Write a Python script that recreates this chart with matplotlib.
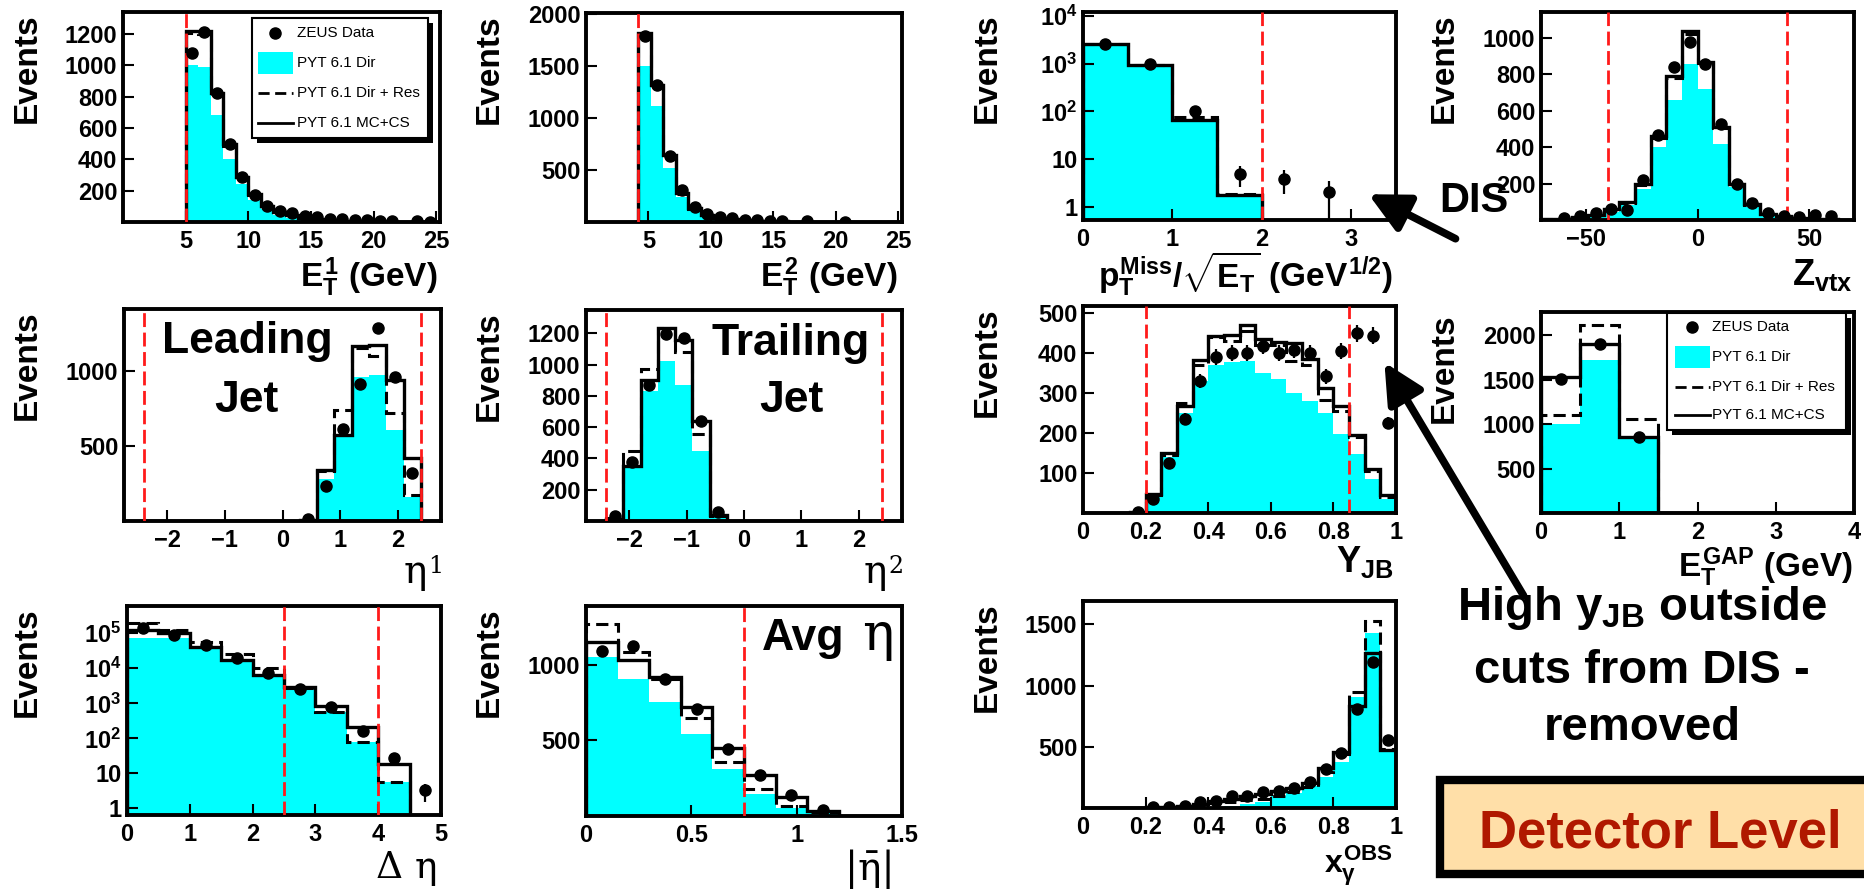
import numpy as np
import matplotlib.pyplot as plt
from matplotlib.patches import Rectangle, FancyArrowPatch
from matplotlib.lines import Line2D
from matplotlib.ticker import NullFormatter

plt.rcParams['font.family'] = 'Liberation Sans'
plt.rcParams['mathtext.fontset'] = 'custom'
plt.rcParams['mathtext.rm'] = 'Liberation Sans:bold'
plt.rcParams['mathtext.it'] = 'Liberation Sans:bold'
plt.rcParams['mathtext.bf'] = 'Liberation Sans:bold'
plt.rcParams['mathtext.sf'] = 'Liberation Sans:bold'

W, H = 1864, 891
CYAN = '#00ffff'
RED = '#ff1a1a'
SERIF = 'DejaVu Serif'
nan = np.nan

# ---- leading jet E_T ----
et1_edges = np.linspace(5, 25, 21)
et1_dir = [1000, 990, 685, 405, 245, 140, 80, 45, 25, 13, 7, 4, 2, 1, 1, 0, 0, 0, 0, 0]
et1_res = [1205, 1200, 815, 485, 285, 172, 98, 62, 40, 26, 17, 11, 8, 6, 4, 3, 3, 2, 1, 1]
et1_mc = [1220, 1220, 825, 495, 290, 178, 102, 66, 42, 28, 18, 12, 8, 6, 5, 4, 3, 2, 2, 1]
et1_data = [1080, 1210, 825, 495, 290, 175, 100, 72, 55, 40, 30, 22, 16, 12, 10, 8, 6, nan, 4, 3]

# ---- trailing jet E_T ----
et2_edges = np.linspace(4.2, 25.2, 22)
et2_dir = [1500, 1115, 520, 245, 115, 50, 20, 10, 5, 2, 1, 0, 0, 0, 0, 0, 0, 0, 0, 0, 0]
et2_res = [1800, 1300, 640, 272, 128, 64, 38, 25, 16, 10, 7, 5, 3, 2, 2, 1, 1, 1, 0, 0, 0]
et2_mc = [1820, 1315, 645, 275, 130, 65, 40, 26, 17, 11, 7, 5, 4, 3, 2, 1, 1, 1, 0, 0, 0]
et2_data = [1790, 1320, 630, 306, 148, 80, 50, 35, 22, 15, 10, 8, nan, 5, nan, nan, 3, nan, nan, nan, nan]

# ---- missing pT / sqrt(ET) ----
pt_edges = np.linspace(0, 3.5, 8)
pt_dir = [2500, 900, 60, 1.7, 0, 0, 0]
pt_res = [2550, 920, 75, 1.9, 0, 0, 0]
pt_mc = [2600, 930, 67, 1.75, 0, 0, 0]
pt_data = [2600, 1000, 100, 4.9, 3.9, 2.0, nan]
pt_err = [50, 32, 10, 2.3, 2.0, 1.45, 0]

# ---- Z vertex ----
zvtx_edges = np.linspace(-70, 70, 21)
zvtx_dir = [2, 5, 10, 20, 45, 80, 170, 400, 655, 855, 718, 418, 180, 70, 25, 12, 6, 3, 2, 1]
zvtx_res = [3, 7, 14, 28, 58, 95, 190, 450, 780, 1020, 860, 505, 195, 80, 33, 18, 9, 6, 3, 2]
zvtx_mc = [3, 8, 15, 30, 60, 100, 195, 460, 790, 1035, 865, 510, 200, 85, 35, 20, 10, 7, 4, 2]
zvtx_data = [nan, 9, 22, 36, 58, 55, 218, 464, 840, 976, 855, 527, 200, 91, 36, 22, 18, 27, 22, nan]

# ---- eta of leading / trailing jet ----
eta_edges = np.linspace(-2.4, 2.4, 17)
eta1_dir = [0, 0, 0, 0, 0, 0, 0, 0, 0, 2, 282, 564, 960, 971, 604, 160]
eta1_res = [0, 0, 0, 0, 0, 0, 0, 0, 0, 4, 330, 740, 1150, 1100, 716, 171]
eta1_mc = [0, 0, 0, 0, 0, 0, 0, 0, 0, 5, 338, 570, 1165, 1170, 940, 416]
eta1_data = [nan, nan, nan, nan, nan, nan, nan, nan, nan, 11, 231, 609, 911, 1282, 960, 316]

eta2_dir = [0, 361, 834, 1026, 867, 447, 28, 0, 0, 0, 0, 0, 0, 0, 0, 0]
eta2_res = [18, 447, 975, 1232, 1082, 555, 35, 0, 0, 0, 0, 0, 0, 0, 0, 0]
eta2_mc = [15, 350, 900, 1232, 1160, 637, 40, 0, 0, 0, 0, 0, 0, 0, 0, 0]
eta2_data = [32, 378, 867, 1194, 1168, 637, 56, nan, nan, nan, nan, nan, nan, nan, nan, nan]

# ---- y_JB ----
yjb_edges = np.linspace(0, 1, 21)
yjb_dir = [0, 0, 0, 1, 40, 140, 251, 330, 371, 378, 380, 351, 336, 301, 280, 251, 197, 147, 85, 35]
yjb_res = [0, 0, 0, 2, 45, 145, 275, 370, 440, 430, 455, 420, 420, 380, 370, 284, 255, 190, 105, 40]
yjb_mc = [0, 0, 0, 2, 48, 150, 269, 384, 442, 446, 471, 435, 429, 425, 385, 313, 268, 194, 110, 44]
yjb_data = [nan, nan, nan, 2, 35, 126, 236, 331, 390, 400, 400, 417, 400, 409, 400, 342, 405, 450, 444, 226]
yjb_err = [0, 0, 0, 2, 6, 11, 15, 18, 20, 20, 20, 20, 20, 20, 20, 19, 20, 21, 21, 15]

# ---- E_T in gap ----
gap_edges = np.linspace(0, 4, 9)
gap_dir = [1005, 1717, 836, 0, 0, 0, 0, 0]
gap_res = [1100, 2110, 1060, 0, 0, 0, 0, 0]
gap_mc = [1530, 1905, 855, 0, 0, 0, 0, 0]
gap_data = [1511, 1905, 855, nan, nan, nan, nan, nan]

# ---- delta eta ----
deta_edges = np.linspace(0, 5, 11)
deta_dir = [7.2e4, 7.2e4, 4.1e4, 1.7e4, 6.4e3, 2.9e3, 580, 80, 5.8, 0]
deta_res = [1.9e5, 1.2e5, 5.8e4, 2.6e4, 1.0e4, 2.7e3, 580, 80, 5.8, 0]
deta_mc = [1.2e5, 1.0e5, 4.1e4, 1.7e4, 6.4e3, 2.9e3, 840, 206, 19, 0]
deta_data = [1.4e5, 9e4, 4.6e4, 2e4, 7.5e3, 2.5e3, 770, 160, 28, 3.3]
deta_err = [0, 0, 0, 0, 0, 0, 0, 0, 0, 1.8]

# ---- average |eta| ----
avg_edges = np.linspace(0, 1.5, 11)
avg_dir = [1055, 906, 752, 544, 314, 143, 55, 18, 0, 0]
avg_res = [1268, 1086, 906, 647, 357, 182, 68, 24, 0, 0]
avg_mc = [1153, 1031, 917, 719, 452, 270, 127, 35, 0, 0]
avg_data = [1092, 1125, 910, 708, 441, 270, 138, 39, nan, nan]

# ---- x_gamma ----
xg_edges = np.linspace(0, 1, 21)
xg_dir = [0, 0, 0, 0, 0, 1, 3, 6, 10, 20, 30, 45, 95, 120, 176, 257, 378, 905, 1432, 460]
xg_res = [0, 0, 0, 0, 4, 8, 15, 28, 40, 50, 62, 76, 100, 130, 170, 290, 440, 946, 1527, 480]
xg_mc = [0, 0, 0, 0, 5, 10, 20, 35, 55, 75, 95, 115, 140, 160, 208, 324, 459, 830, 1262, 473]
xg_data = [nan, nan, nan, nan, 5, 8, 15, 45, 60, 95, 100, 127, 140, 162, 216, 316, 451, 811, 1189, 554]

fig = plt.figure(figsize=(W / 100, H / 100), dpi=100)


def fxy(x, y):
    return x / W, 1 - y / H


def panel(box, xlim, ylim, xticks, yticks, xlabels=None, ylabels=None, log=False):
    l, t, r, b = box
    ax = fig.add_axes([l / W, 1 - b / H, (r - l) / W, (b - t) / H])
    if log:
        ax.set_yscale('log')
    ax.set_xlim(xlim)
    ax.set_ylim(ylim)
    ax.set_xticks(xticks)
    if xlabels:
        ax.set_xticklabels(xlabels)
    ax.set_yticks(yticks)
    if ylabels:
        ax.set_yticklabels(ylabels)
    ax.yaxis.set_minor_formatter(NullFormatter())
    ax.tick_params(direction='in', length=8, width=1.5, labelsize=17, pad=4)
    ax.tick_params(axis='x', pad=6)
    ax.tick_params(which='minor', direction='in', length=4, width=1)
    for lbl in ax.get_xticklabels() + ax.get_yticklabels():
        lbl.set_fontweight('bold')
    for s in ax.spines.values():
        s.set_linewidth(2.8)
    # "Events" sits near the top of each frame
    ex = {123: 27, 124: 27, 127: 27, 586: 489, 1083: 987, 1541: 1444}[l]
    fig.text(*fxy(ex, t + 1), 'Events', rotation=90, ha='center', va='top',
             fontsize=24, weight='bold')
    return ax


def hists(ax, edges, dirv, resv, mcv, floor=0.0):
    ax.stairs(np.maximum(dirv, floor), edges, fill=True, color=CYAN, baseline=floor, zorder=1)
    ax.stairs(np.maximum(mcv, floor), edges, color='black', lw=2.4, baseline=floor, zorder=2)
    ax.stairs(np.maximum(resv, floor), edges, color='black', lw=2.2, ls=(0, (4, 2)),
              baseline=floor, zorder=3)


def points(ax, edges, y, yerr=None):
    x = 0.5 * (edges[1:] + edges[:-1])
    ax.errorbar(x, y, yerr=yerr, fmt='o', color='black', ms=8, elinewidth=1.6,
                capsize=0, zorder=5)


def cuts(ax, xs):
    for x in xs:
        ax.axvline(x, color=RED, lw=2, ls=(0, (5, 2)), zorder=4)


def xlabel(x, y, s, size=24):
    fig.text(*fxy(x, y), s, ha='right', va='baseline', fontsize=size, weight='bold')


def eta_label(x, y, sup):
    # thin serif eta with a small superscript, as in the original
    fig.text(*fxy(x - 10, y), '\u03b7', ha='right', va='baseline', fontsize=28, family=SERIF)
    fig.text(*fxy(x - 9, y - 10), sup, ha='left', va='baseline', fontsize=17, family=SERIF)


def legend(box, mx, rows, x0, x1, tx):
    l, t, r, b = box
    fig.add_artist(Rectangle(fxy(l + 5, b + 5), (r - l) / W, (b - t) / H,
                             transform=fig.transFigure, facecolor='black', zorder=10))
    fig.add_artist(Rectangle(fxy(l, b), (r - l) / W, (b - t) / H, transform=fig.transFigure,
                             facecolor='white', edgecolor='black', lw=1.5, zorder=11))
    y0, y1, y2, y3 = rows
    fig.add_artist(Line2D([mx / W], [1 - y0 / H], marker='o', ms=8, color='black',
                          transform=fig.transFigure, zorder=12))
    fig.add_artist(Rectangle(fxy(x0, y1 + 11), (x1 - x0) / W, 22 / H, transform=fig.transFigure,
                             facecolor=CYAN, zorder=12))
    fig.add_artist(Line2D([x0 / W, x1 / W], [1 - y2 / H] * 2, color='black', lw=2,
                          ls=(0, (4, 2)), transform=fig.transFigure, zorder=12))
    fig.add_artist(Line2D([x0 / W, x1 / W], [1 - y3 / H] * 2, color='black', lw=2,
                          transform=fig.transFigure, zorder=12))
    for y, s in zip(rows, ['ZEUS Data', 'PYT 6.1 Dir', 'PYT 6.1 Dir + Res', 'PYT 6.1 MC+CS']):
        fig.text(*fxy(tx, y), s, fontsize=11, va='center', zorder=12)


frac = ['0', '0.2', '0.4', '0.6', '0.8', '1']

# row 1
ax = panel((123, 12, 440, 222), (0, 25.3), (0, 1340), [5, 10, 15, 20, 25], [200, 400, 600, 800, 1000, 1200])
hists(ax, et1_edges, et1_dir, et1_res, et1_mc)
points(ax, et1_edges, et1_data)
cuts(ax, [5])
xlabel(437, 287, r'$E_T^1\ (GeV)$')
legend((252, 18, 428, 138), 275, (33, 63, 93, 123), 258, 293, 297)

ax = panel((586, 13, 902, 222), (0, 25.3), (0, 2010), [5, 10, 15, 20, 25], [500, 1000, 1500, 2000])
hists(ax, et2_edges, et2_dir, et2_res, et2_mc)
points(ax, et2_edges, et2_data)
cuts(ax, [4.2])
xlabel(897, 287, r'$E_T^2\ (GeV)$')

ax = panel((1083, 12, 1396, 220), (0, 3.5), (0.53, 1.2e4), [0, 1, 2, 3], [1, 10, 100, 1000, 10000],
           ylabels=['1', '10', r'10$^2$', r'10$^3$', r'10$^4$'], log=True)
hists(ax, pt_edges, pt_dir, pt_res, pt_mc, floor=1e-2)
points(ax, pt_edges, pt_data, pt_err)
cuts(ax, [2])
xlabel(1393, 287, r'$p_T^{Miss}/\sqrt{E_T}\ (GeV^{1/2})$')

ax = panel((1541, 12, 1854, 220), (-70, 70), (0, 1140), [-50, 0, 50], [200, 400, 600, 800, 1000])
hists(ax, zvtx_edges, zvtx_dir, zvtx_res, zvtx_mc)
points(ax, zvtx_edges, zvtx_data)
cuts(ax, [-40, 40])
xlabel(1852, 285, r'$Z_{vtx}$', size=26)

# row 2
ax = panel((124, 309, 441, 521), (-2.75, 2.75), (0, 1410), [-2, -1, 0, 1, 2], [500, 1000])
hists(ax, eta_edges, eta1_dir, eta1_res, eta1_mc)
points(ax, eta_edges, eta1_data)
cuts(ax, [-2.4, 2.4])
eta_label(437, 583, '1')
fig.text(*fxy(247, 353), 'Leading', ha='center', va='baseline', fontsize=32, weight='bold')
fig.text(*fxy(246, 412), 'Jet', ha='center', va='baseline', fontsize=32, weight='bold')

ax = panel((586, 310, 902, 521), (-2.75, 2.75), (0, 1350), [-2, -1, 0, 1, 2], [200, 400, 600, 800, 1000, 1200])
hists(ax, eta_edges, eta2_dir, eta2_res, eta2_mc)
points(ax, eta_edges, eta2_data)
cuts(ax, [-2.4, 2.4])
eta_label(897, 583, '2')
fig.text(*fxy(791, 355), 'Trailing', ha='center', va='baseline', fontsize=32, weight='bold')
fig.text(*fxy(791, 412), 'Jet', ha='center', va='baseline', fontsize=32, weight='bold')

ax = panel((1083, 306, 1396, 513), (0, 1), (0, 518), [0, 0.2, 0.4, 0.6, 0.8, 1], [100, 200, 300, 400, 500],
           xlabels=frac)
hists(ax, yjb_edges, yjb_dir, yjb_res, yjb_mc)
points(ax, yjb_edges, yjb_data, yjb_err)
cuts(ax, [0.2, 0.85])
xlabel(1393, 572, r'$Y_{JB}$', size=26)

ax = panel((1541, 312, 1854, 513), (0, 4), (0, 2260), [0, 1, 2, 3, 4], [500, 1000, 1500, 2000])
hists(ax, gap_edges, gap_dir, gap_res, gap_mc)
points(ax, gap_edges, gap_data)
xlabel(1853, 577, r'$E_T^{GAP}\ (GeV)$')
legend((1667, 313, 1846, 430), 1692, (327, 357, 387, 415), 1675, 1710, 1712)

# row 3
ax = panel((127, 606, 441, 815), (0, 5), (0.65, 6e5), [0, 1, 2, 3, 4, 5], [1, 10, 1e2, 1e3, 1e4, 1e5],
           ylabels=['1', '10', r'10$^2$', r'10$^3$', r'10$^4$', r'10$^5$'], log=True)
hists(ax, deta_edges, deta_dir, deta_res, deta_mc, floor=1e-2)
points(ax, deta_edges, deta_data, deta_err)
cuts(ax, [2.5, 4])
fig.text(*fxy(437, 878), '\u0394 \u03b7', ha='right', va='baseline', fontsize=27, family=SERIF)

ax = panel((586, 606, 902, 816), (0, 1.5), (0, 1390), [0, 0.5, 1, 1.5], [500, 1000],
           xlabels=['0', '0.5', '1', '1.5'])
hists(ax, avg_edges, avg_dir, avg_res, avg_mc)
points(ax, avg_edges, avg_data)
cuts(ax, [0.75])
fig.text(*fxy(895, 880), '|\u03b7\u0304|', ha='right', va='baseline', fontsize=28, family=SERIF)
fig.text(*fxy(762, 650), 'Avg', ha='left', va='baseline', fontsize=32, weight='bold')
fig.text(*fxy(862, 650), '\u03b7', ha='left', va='baseline', fontsize=38, family=SERIF)

ax = panel((1083, 601, 1396, 808), (0, 1), (0, 1690), [0, 0.2, 0.4, 0.6, 0.8, 1], [500, 1000, 1500],
           xlabels=frac)
hists(ax, xg_edges, xg_dir, xg_res, xg_mc)
points(ax, xg_edges, xg_data)
xlabel(1393, 872, r'$x_{\gamma}^{OBS}$', size=23)

# annotations
fig.text(*fxy(1474, 212), 'DIS', ha='center', va='baseline', fontsize=30, weight='bold', zorder=13)
for (x0, y0), (x1, y1) in [((1458, 240), (1366, 193)), ((1525, 598), (1383, 360))]:
    fig.add_artist(FancyArrowPatch(fxy(x0, y0), fxy(x1, y1), transform=fig.transFigure,
                                   arrowstyle='-|>,head_length=1.2,head_width=0.6',
                                   mutation_scale=20, lw=5.5, color='black', zorder=12))

for y, s in [(620, r'High y$_{JB}$ outside'), (683, 'cuts from DIS -'), (740, 'removed')]:
    fig.text(*fxy(1642, y), s, ha='center', va='baseline', fontsize=34, weight='bold')

fig.add_artist(Rectangle(fxy(1440, 874), 460 / W, 94 / H, transform=fig.transFigure,
                         facecolor='#ffdfa8', edgecolor='black', lw=6, zorder=10, clip_on=False))
fig.text(*fxy(1660, 847), 'Detector Level', ha='center', va='baseline', fontsize=38,
         weight='bold', color='#b01800', zorder=11)

fig.savefig('out.png', dpi=100)
